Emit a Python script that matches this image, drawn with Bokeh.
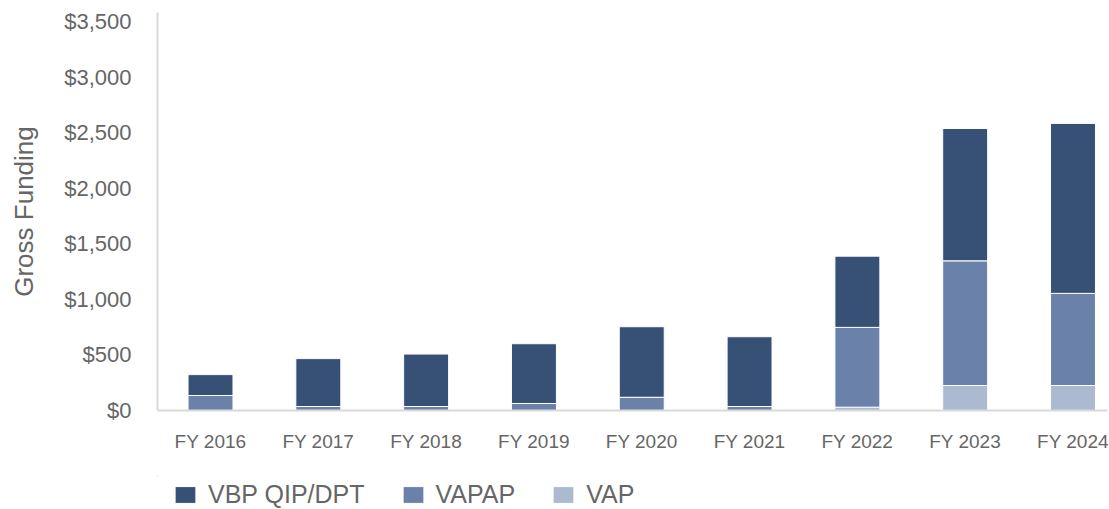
from bokeh.plotting import figure
from bokeh.layouts import column
from bokeh.models import ColumnDataSource, Range1d, FixedTicker, NumeralTickFormatter, Legend, LegendItem
from bokeh.embed import file_html
from bokeh.resources import INLINE

years = ["FY 2016", "FY 2017", "FY 2018", "FY 2019", "FY 2020", "FY 2021", "FY 2022", "FY 2023", "FY 2024"]
vap = [0, 0, 0, 0, 0, 0, 30, 225, 225]
vapap = [135, 36, 36, 63, 119, 36, 718, 1122, 829]
vbp = [188, 431, 472, 538, 635, 628, 641, 1191, 1530]
series = ["VAP", "VAPAP", "VBP QIP/DPT"]
colors = ["#abbad0", "#6a82a9", "#375075"]
y_ticks = [0, 500, 1000, 1500, 2000, 2500, 3000, 3500]

xs = list(range(len(years)))
src = ColumnDataSource(dict(x=xs, VAP=vap, VAPAP=vapap, **{"VBP QIP/DPT": vbp}))

p = figure(width=1109, height=475, output_backend="svg", toolbar_location=None,
           x_range=Range1d(-0.4917, 8.32), y_range=Range1d(0, 3582),
           min_border_left=157, min_border_right=2, min_border_top=12, min_border_bottom=65)
p.outline_line_color = None
p.xgrid.grid_line_color = None
p.ygrid.grid_line_color = None

rs = p.vbar_stack(series, x="x", width=0.417, source=src, color=colors,
                  line_color="white", line_width=1)

text_color = "#666666"
p.xaxis.ticker = FixedTicker(ticks=xs)
p.xaxis.major_label_overrides = {i: y for i, y in enumerate(years)}
p.xaxis.major_tick_line_color = None
p.xaxis.minor_tick_line_color = None
p.xaxis.axis_line_color = "#d9d9d9"
p.xaxis.axis_line_width = 2
p.xaxis.major_label_standoff = 14
p.xaxis.major_label_text_font = "Liberation Sans"
p.xaxis.major_label_text_font_size = "19px"
p.xaxis.major_label_text_color = text_color

p.yaxis.ticker = FixedTicker(ticks=y_ticks)
p.yaxis.formatter = NumeralTickFormatter(format="$0,0")
p.yaxis.major_tick_line_color = None
p.yaxis.minor_tick_line_color = None
p.yaxis.axis_line_color = "#d9d9d9"
p.yaxis.axis_line_width = 2
p.yaxis.major_label_standoff = 20
p.yaxis.major_label_text_font = "Liberation Sans"
p.yaxis.major_label_text_font_size = "22px"
p.yaxis.major_label_text_color = text_color
p.yaxis.axis_label = "Gross Funding"
p.yaxis.axis_label_text_font = "Liberation Sans"
p.yaxis.axis_label_text_font_size = "26px"
p.yaxis.axis_label_text_font_style = "normal"
p.yaxis.axis_label_text_color = text_color
p.yaxis.axis_label_standoff = 22

# legend strip: same series, viewed well outside their extent so only the legend shows
lg = figure(width=1109, height=34, output_backend="svg", toolbar_location=None,
            x_range=Range1d(100, 101), y_range=Range1d(-20000, -19999),
            x_axis_location=None, y_axis_location=None,
            min_border_left=0, min_border_right=0, min_border_top=0, min_border_bottom=0)
lg.outline_line_color = None
lg.xgrid.grid_line_color = None
lg.ygrid.grid_line_color = None
ls = lg.vbar_stack(series, x="x", width=0.417, source=src, color=colors,
                   line_color="white", line_width=1)

items = [LegendItem(label=series[2], renderers=[ls[2]]),
         LegendItem(label=series[1], renderers=[ls[1]]),
         LegendItem(label=series[0], renderers=[ls[0]])]
legend = Legend(items=items, orientation="horizontal", location=(15, 0),
                glyph_width=26, glyph_height=21, label_standoff=10, spacing=35,
                padding=0, margin=0, border_line_color=None, background_fill_alpha=0,
                label_text_font="Liberation Sans", label_text_font_size="25px",
                label_text_color=text_color, label_height=21)
lg.add_layout(legend, "center")

layout = column(p, lg, spacing=0)
open("out.html", "w").write(file_html(layout, INLINE))
